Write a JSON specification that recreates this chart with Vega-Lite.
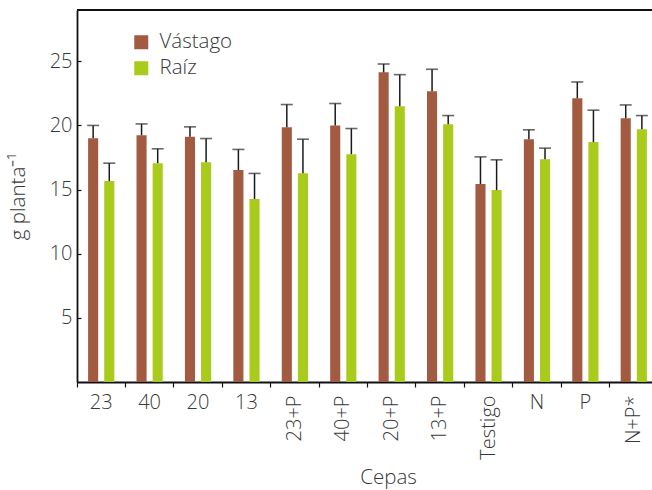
{
  "$schema": "https://vega.github.io/schema/vega-lite/v6.json",
  "autosize": "none",
  "width": 575,
  "height": 372,
  "padding": {"left": 77, "top": 10, "right": 0, "bottom": 108},
  "background": "white",
  "config": {
    "view": {"stroke": null},
    "font": "Open Sans",
    "axis": {
      "labelFont": "Open Sans", "labelFontWeight": 300, "labelFontSize": 20, "labelColor": "#383838",
      "titleFont": "Open Sans", "titleFontWeight": 300, "titleFontSize": 20.5, "titleColor": "#383838",
      "domainColor": "#111", "domainWidth": 1.8, "tickColor": "#111", "tickWidth": 1.2, "grid": false
    },
    "legend": {"labelFont": "Open Sans", "labelFontWeight": 300, "labelFontSize": 20.5, "labelColor": "#383838"}
  },
  "data": {"values": [
    {"cepa": "23", "tipo": "Vástago", "valor": 19.0, "sup": 20.0},
    {"cepa": "23", "tipo": "Raíz", "valor": 15.66, "sup": 17.06},
    {"cepa": "40", "tipo": "Vástago", "valor": 19.24, "sup": 20.12},
    {"cepa": "40", "tipo": "Raíz", "valor": 17.06, "sup": 18.18},
    {"cepa": "20", "tipo": "Vástago", "valor": 19.11, "sup": 19.89},
    {"cepa": "20", "tipo": "Raíz", "valor": 17.14, "sup": 18.98},
    {"cepa": "13", "tipo": "Vástago", "valor": 16.52, "sup": 18.13},
    {"cepa": "13", "tipo": "Raíz", "valor": 14.26, "sup": 16.26},
    {"cepa": "23+P", "tipo": "Vástago", "valor": 19.86, "sup": 21.63},
    {"cepa": "23+P", "tipo": "Raíz", "valor": 16.28, "sup": 18.93},
    {"cepa": "40+P", "tipo": "Vástago", "valor": 19.99, "sup": 21.71},
    {"cepa": "40+P", "tipo": "Raíz", "valor": 17.76, "sup": 19.76},
    {"cepa": "20+P", "tipo": "Vástago", "valor": 24.14, "sup": 24.79},
    {"cepa": "20+P", "tipo": "Raíz", "valor": 21.5, "sup": 23.96},
    {"cepa": "13+P", "tipo": "Vástago", "valor": 22.67, "sup": 24.38},
    {"cepa": "13+P", "tipo": "Raíz", "valor": 20.1, "sup": 20.77},
    {"cepa": "Testigo", "tipo": "Vástago", "valor": 15.43, "sup": 17.55},
    {"cepa": "Testigo", "tipo": "Raíz", "valor": 14.96, "sup": 17.32},
    {"cepa": "N", "tipo": "Vástago", "valor": 18.93, "sup": 19.66},
    {"cepa": "N", "tipo": "Raíz", "valor": 17.37, "sup": 18.23},
    {"cepa": "P", "tipo": "Vástago", "valor": 22.12, "sup": 23.39},
    {"cepa": "P", "tipo": "Raíz", "valor": 18.7, "sup": 21.19},
    {"cepa": "N+P*", "tipo": "Vástago", "valor": 20.56, "sup": 21.6},
    {"cepa": "N+P*", "tipo": "Raíz", "valor": 19.71, "sup": 20.77}
  ]},
  "resolve": {"axis": {"x": "independent"}},
  "layer": [
    {
      "mark": {"type": "bar"},
      "encoding": {
        "x": {
          "field": "cepa", "type": "nominal", "sort": null,
          "scale": {"range": [0, 581], "paddingInner": 0, "paddingOuter": 0},
          "axis": {
            "orient": "bottom",
            "title": "Cepas", "titleX": 311, "titleY": 101, "titleBaseline": "alphabetic", "titleAlign": "center",
            "tickSize": 5, "bandPosition": 0, "labelPadding": 5, "labelOverlap": false, "labelAngle": 0,
            "labelAlign": "center", "labelBaseline": "top",
            "labelExpr": "length(datum.label) > 2 ? '' : datum.label"
          }
        },
        "xOffset": {
          "field": "tipo", "type": "nominal", "sort": ["Vástago", "Raíz"],
          "scale": {"paddingInner": 0.375, "paddingOuter": 0.6875}
        },
        "y": {
          "field": "valor", "type": "quantitative",
          "scale": {"domain": [0, 29], "nice": false},
          "axis": {"title": "g planta⁻¹", "values": [5, 10, 15, 20, 25], "tickSize": -4, "labelPadding": 9, "titlePadding": 21}
        },
        "color": {
          "field": "tipo", "type": "nominal", "sort": ["Vástago", "Raíz"],
          "scale": {"domain": ["Vástago", "Raíz"], "range": ["#A25B40", "#A9CB1B"]},
          "legend": {
            "title": null, "orient": "none", "legendX": 54, "legendY": 22,
            "symbolType": "square", "symbolSize": 196, "symbolStrokeWidth": 0, "labelOffset": 8, "rowPadding": 5
          }
        }
      }
    },
    {
      "mark": {"type": "rule", "color": "#1a1a1a", "strokeWidth": 1.5},
      "encoding": {
        "x": {
          "field": "cepa", "type": "nominal", "sort": null,
          "axis": {
            "orient": "bottom", "title": null, "domain": false, "tickSize": 5, "tickOpacity": 0,
            "labelPadding": 8, "labelOverlap": false, "labelAngle": 270,
            "labelAlign": "right", "labelBaseline": "middle",
            "labelExpr": "length(datum.label) > 2 ? datum.label : ''"
          }
        },
        "xOffset": {"field": "tipo", "type": "nominal", "sort": ["Vástago", "Raíz"]},
        "y": {"field": "valor", "type": "quantitative"},
        "y2": {"field": "sup"}
      }
    },
    {
      "mark": {"type": "tick", "color": "#2a2a2a", "thickness": 1.6, "size": 12, "orient": "horizontal"},
      "encoding": {
        "x": {"field": "cepa", "type": "nominal", "sort": null, "axis": null},
        "xOffset": {"field": "tipo", "type": "nominal", "sort": ["Vástago", "Raíz"]},
        "y": {"field": "sup", "type": "quantitative"}
      }
    },
    {
      "mark": {"type": "rule", "color": "#111", "strokeWidth": 2},
      "encoding": {"y": {"datum": 29, "type": "quantitative"}}
    }
  ]
}
